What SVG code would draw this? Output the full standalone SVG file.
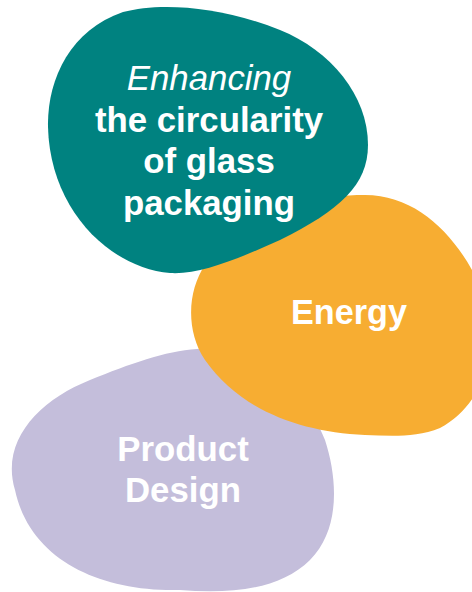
<svg xmlns="http://www.w3.org/2000/svg" width="472" height="592" viewBox="0 0 472 592">
  <style>
    .lbl { font-family: "Liberation Sans", Arial, Helvetica, sans-serif; fill: #ffffff; text-anchor: middle; }
    .b { font-weight: bold; }
    .i { font-style: italic; font-weight: normal; }
  </style>
  <rect width="472" height="592" fill="#ffffff"/>

  <!-- bottom layer: product design -->
  <g id="product-design">
    <path fill="#c4bedb" d="M 197,349 C 260,345 305,390 325,440 C 338,480 340,530 310,560 C 280,590 230,594 180,590 C 100,592 30,560 15,490 C 0,440 40,400 90,380 C 130,364 165,351 197,349 Z"/>
    <text class="lbl b" font-size="34.8" x="183" y="461">Product</text>
    <text class="lbl b" font-size="34.8" x="183" y="502">Design</text>
  </g>

  <!-- middle layer: energy -->
  <g id="energy">
    <path fill="#f7ad32" d="M 365,195 C 420,195 460,240 482,290 C 500,340 490,400 440,428 C 415,438 390,436 365,435 C 300,432 240,410 205,360 C 185,330 188,290 205,265 C 230,225 290,195 365,195 Z"/>
    <text class="lbl b" font-size="34.2" x="349" y="324">Energy</text>
  </g>

  <!-- top layer: circularity headline -->
  <g id="circularity">
    <path fill="#008280" d="M 48,127 C 47,80 70,30 123,12 C 160,2 220,6 280,30 C 330,50 368,95 368,145 C 368,185 340,210 280,240 C 240,258 200,275 170,273 C 110,268 50,210 48,127 Z"/>
    <text class="lbl i" font-size="34.8" x="209" y="90">Enhancing</text>
    <text class="lbl b" font-size="34.8" x="209" y="131.5">the circularity</text>
    <text class="lbl b" font-size="34.8" x="209" y="173">of glass</text>
    <text class="lbl b" font-size="34.8" x="209" y="215">packaging</text>
  </g>
</svg>
